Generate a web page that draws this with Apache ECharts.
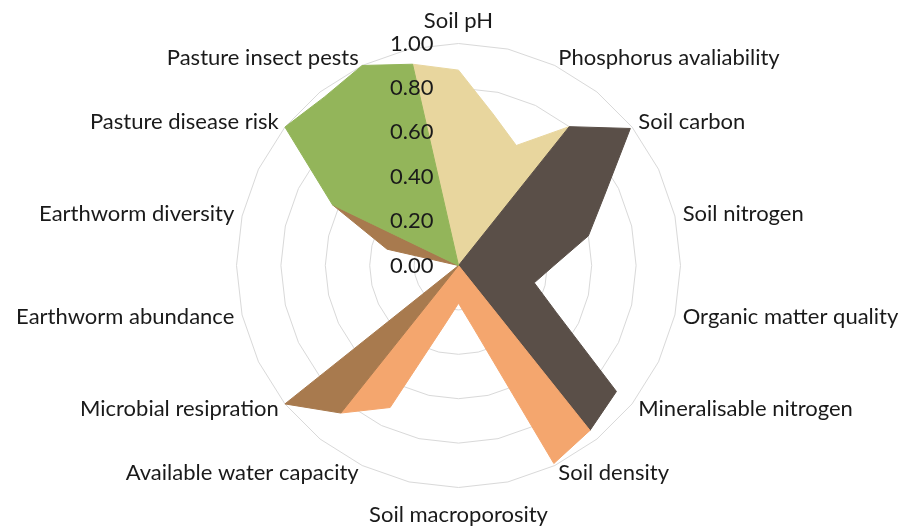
<!DOCTYPE html>
<html>
<head>
<meta charset="utf-8">
<script src="https://cdn.jsdelivr.net/npm/echarts@6/dist/echarts.min.js"></script>
<style>
html,body{margin:0;padding:0;background:#ffffff;}
#chart{width:909px;height:530px;}
</style>
</head>
<body>
<div id="chart"></div>
<script>
// Category axes, clockwise from the top
const categories = ['Soil pH', 'Phosphorus avaliability', 'Soil carbon', 'Soil nitrogen',
  'Organic matter quality', 'Mineralisable nitrogen', 'Soil density', 'Soil macroporosity',
  'Available water capacity', 'Microbial resipration', 'Earthworm abundance',
  'Earthworm diversity', 'Pasture disease risk', 'Pasture insect pests'];
const tickLabels = ['0.00', '0.20', '0.40', '0.60', '0.80', '1.00'];

// Values on 28 spokes, clockwise from Soil pH: every category axis is
// followed by the unlabelled spoke half-way to the next category.
const groupNames = ['Soil chemistry', 'Soil nutrients', 'Soil physical', 'Soil biology', 'Pasture health'];
const soilChemistry  = [0.88, 0.70, 0.60, 0.80, 0, 0, 0, 0, 0, 0, 0, 0, 0, 0, 0, 0, 0, 0, 0, 0, 0, 0, 0, 0, 0, 0, 0, 0.93];
const soilNutrients  = [0, 0, 0, 0.80, 0.99, 0.73, 0.60, 0.43, 0.35, 0.49, 0.91, 0.95, 0, 0, 0, 0, 0, 0, 0, 0, 0, 0, 0, 0, 0, 0, 0, 0];
const soilPhysical   = [0, 0, 0, 0, 0, 0, 0, 0, 0, 0, 0, 0.95, 0.99, 0.28, 0.17, 0.27, 0.71, 0.85, 0, 0, 0, 0, 0, 0, 0, 0, 0, 0];
const soilBiology    = [0, 0, 0, 0, 0, 0, 0, 0, 0, 0, 0, 0, 0, 0, 0, 0, 0, 0.85, 1.00, 0, 0, 0, 0.33, 0.63, 0, 0, 0, 0];
const pastureHealth  = [0, 0, 0, 0, 0, 0, 0, 0, 0, 0, 0, 0, 0, 0, 0, 0, 0, 0, 0, 0, 0, 0, 0, 0.63, 1.00, 0.97, 1.00, 0.93];

const groupColors = ['#E8D69E', '#5A4F48', '#F4A66E', '#A87A4E', '#93B55A'];
const groupValues = [soilChemistry, soilNutrients, soilPhysical, soilBiology, pastureHealth];

const FONT = 'Lato';
const TEXT_COLOR = '#1a1a1a';
const spokeCount = categories.length * 2;
const step = 0.2;
const axisMax = (tickLabels.length - 1) * step;
const CENTER = [458.5, 265.5];
const RADIUS = 222;

// ECharts lays radar indicators out counter-clockwise; map indicator i to spoke k.
function spokeOf(i) { return (spokeCount - i) % spokeCount; }

const nameGaps = {0: 12, 14: 16};
const indicators = [];
const labelIndicators = [];
for (let i = 0; i < spokeCount; i++) {
  const k = spokeOf(i);
  indicators.push({
    name: k % 2 === 0 ? categories[k / 2] : '',
    min: 0,
    max: axisMax,
    nameGap: nameGaps[k] != null ? nameGaps[k] : 8
  });
  labelIndicators.push({
    name: '',
    min: 0,
    max: axisMax,
    axisLabel: k === 0 ? {
      show: true,
      margin: 25,
      fontFamily: FONT,
      fontSize: 22,
      color: TEXT_COLOR,
      formatter: function (v) { return tickLabels[Math.round(v / step)]; }
    } : { show: false }
  });
}

const seriesData = groupValues.map(function (vals, g) {
  const value = [];
  for (let i = 0; i < spokeCount; i++) value.push(vals[spokeOf(i)]);
  return {
    name: groupNames[g],
    value: value,
    symbol: 'none',
    areaStyle: { color: groupColors[g], opacity: 1 },
    lineStyle: { color: groupColors[g], width: 1, opacity: 1 }
  };
});

const chart = echarts.init(document.getElementById('chart'), null, { renderer: 'canvas' });
chart.setOption({
  backgroundColor: '#ffffff',
  animation: false,
  radar: [{
    z: 0,
    center: CENTER,
    radius: RADIUS,
    startAngle: 90,
    shape: 'polygon',
    splitNumber: tickLabels.length - 1,
    indicator: indicators,
    axisName: {
      show: true,
      fontFamily: FONT,
      fontSize: 22,
      color: TEXT_COLOR
    },
    axisLine: { show: false },
    axisTick: { show: false },
    splitArea: { show: false },
    splitLine: { show: true, lineStyle: { color: '#D9D9D9', width: 1 } },
    axisLabel: { show: false }
  }, {
    z: 10,
    center: CENTER,
    radius: RADIUS,
    startAngle: 90,
    shape: 'polygon',
    splitNumber: tickLabels.length - 1,
    indicator: labelIndicators,
    axisName: { show: false },
    axisLine: { show: false },
    axisTick: { show: false },
    splitArea: { show: false },
    splitLine: { show: false },
    axisLabel: { show: false }
  }],
  series: [{
    type: 'radar',
    radarIndex: 0,
    z: 2,
    silent: true,
    emphasis: { disabled: true },
    data: seriesData
  }]
});
</script>
</body>
</html>
